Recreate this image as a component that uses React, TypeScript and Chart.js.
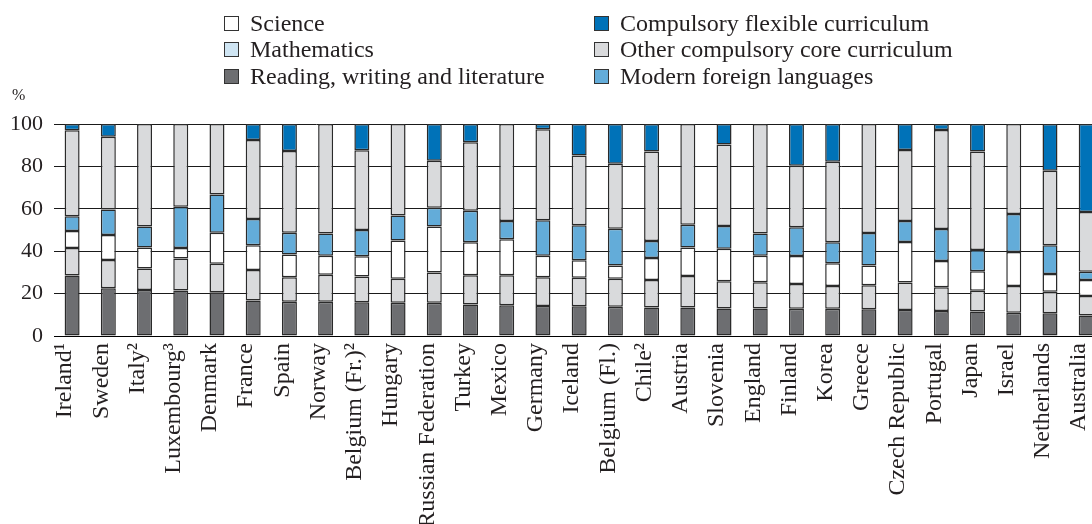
import React, { useEffect, useRef } from "react";
import { Chart, registerables } from "chart.js";

Chart.register(...registerables);

const categories = [
  "Ireland¹", "Sweden", "Italy²", "Luxembourg³", "Denmark", "France", "Spain", "Norway",
  "Belgium (Fr.)²", "Hungary", "Russian Federation", "Turkey", "Mexico", "Germany", "Iceland",
  "Belgium (Fl.)", "Chile²", "Austria", "Slovenia", "England", "Finland", "Korea", "Greece",
  "Czech Republic", "Portugal", "Japan", "Israel", "Netherlands", "Australia",
];

const reading = [28.5, 22.5, 21.7, 21.5, 20.6, 16.7, 16.2, 16.2, 15.9, 15.7, 15.7, 14.9, 14.5, 14.2, 14.0, 13.8, 13.4, 13.4, 13.0, 13.0, 12.9, 12.9, 12.6, 12.3, 11.8, 11.5, 11.0, 10.7, 9.7];
const mathematics = [13.0, 13.3, 10.1, 15.0, 13.5, 14.4, 11.5, 12.7, 12.2, 11.3, 14.2, 13.7, 14.1, 13.5, 13.5, 13.2, 13.0, 14.9, 12.8, 12.3, 11.6, 10.7, 11.3, 12.9, 11.2, 9.9, 12.6, 10.2, 9.2];
const science = [8.0, 11.8, 10.0, 5.0, 14.6, 11.7, 10.8, 9.0, 9.5, 18.1, 21.8, 15.6, 17.0, 10.2, 8.2, 6.3, 10.4, 13.5, 15.4, 12.6, 13.2, 10.7, 9.4, 19.1, 12.4, 9.1, 16.0, 8.3, 7.5];
const languages = [7.0, 12.1, 9.8, 19.5, 18.1, 12.4, 10.2, 10.5, 12.4, 11.7, 8.8, 14.9, 8.6, 16.7, 16.5, 17.3, 8.0, 10.7, 10.7, 10.5, 13.6, 9.9, 15.3, 9.9, 15.1, 10.1, 17.9, 13.6, 3.9];
const otherCore = [40.5, 34.3, 48.4, 39.0, 33.2, 37.3, 38.6, 51.6, 37.6, 43.2, 22.2, 32.3, 45.8, 42.9, 33.0, 30.7, 42.2, 47.5, 38.4, 51.6, 29.0, 38.0, 51.4, 33.5, 46.7, 46.4, 42.5, 35.2, 28.2];
const flexible = [3.0, 6.0, 0, 0, 0, 7.5, 12.7, 0, 12.4, 0, 17.3, 8.6, 0, 2.5, 14.8, 18.7, 13.0, 0, 9.7, 0, 19.7, 17.8, 0, 12.3, 2.8, 13.0, 0, 22.0, 41.5];

const yTickMin = 0;
const yTickMax = 100;
const yTickStep = 20;

const FONT = '"Liberation Serif", "Times New Roman", serif';
const TEXT = "#231f20";
const EDGE = "#2a2a2a";

const series = [
  { label: "Reading, writing and literature", data: reading, color: "#6d6e71", legendColor: "#6d6e71" },
  { label: "Mathematics", data: mathematics, color: "#d9dadc", legendColor: "#cfe5f3" },
  { label: "Science", data: science, color: "#ffffff", legendColor: "#ffffff" },
  { label: "Modern foreign languages", data: languages, color: "#63acd9", legendColor: "#63acd9" },
  { label: "Other compulsory core curriculum", data: otherCore, color: "#d9dadc", legendColor: "#d9dadc" },
  { label: "Compulsory flexible curriculum", data: flexible, color: "#0072b8", legendColor: "#0072b8" },
];

const legendColumns = [
  ["Science", "Mathematics", "Reading, writing and literature"],
  ["Compulsory flexible curriculum", "Other compulsory core curriculum", "Modern foreign languages"],
];

export default function App() {
  const ref = useRef<HTMLCanvasElement>(null);

  useEffect(() => {
    const chart = new Chart(ref.current!, {
      type: "bar",
      data: {
        labels: categories,
        datasets: series.map((s) => ({
          label: s.label,
          data: s.data,
          backgroundColor: s.color,
          borderColor: EDGE,
          borderWidth: 1.5,
          borderSkipped: false,
          categoryPercentage: 1,
          barPercentage: 0.414,
        })),
      },
      options: {
        responsive: false,
        animation: false,
        layout: { padding: { top: 124, left: 0, right: 0, bottom: 0 } },
        plugins: { legend: { display: false }, tooltip: { enabled: false } },
        scales: {
          x: {
            stacked: true,
            grid: { display: false, drawTicks: false },
            border: { display: true, color: "#000", width: 1 },
            ticks: {
              autoSkip: false,
              minRotation: 90,
              maxRotation: 90,
              padding: 7,
              labelOffset: -7,
              color: TEXT,
              font: { family: FONT, size: 24 },
            },
            afterFit: (s: any) => {
              s.height = 188;
            },
          },
          y: {
            stacked: true,
            min: yTickMin,
            max: yTickMax,
            grid: { color: "#1a1a1a", lineWidth: 1, drawTicks: false },
            border: { display: false },
            ticks: {
              stepSize: yTickStep,
              padding: 11,
              color: TEXT,
              font: { family: FONT, size: 22 },
            },
            afterFit: (s: any) => {
              s.width = 54;
            },
          },
        },
      },
    });
    return () => chart.destroy();
  }, []);

  const colorOf = (label: string) => series.find((s) => s.label === label)!.legendColor;

  return (
    <div
      style={{
        position: "fixed",
        left: 0,
        top: 0,
        width: 1092,
        height: 524,
        overflow: "hidden",
        background: "#fff",
      }}
    >
      <canvas
        ref={ref}
        width={1122}
        height={524}
        style={{ position: "absolute", left: 0, top: 0, width: 1122, height: 524 }}
      />
      {legendColumns.map((col, ci) =>
        col.map((label, ri) => (
          <div
            key={label}
            style={{
              position: "absolute",
              left: ci === 0 ? 224 : 594,
              top: 23 + ri * 26.5 - 15,
              height: 30,
              display: "flex",
              alignItems: "center",
              fontFamily: FONT,
              fontSize: 24,
              color: TEXT,
              whiteSpace: "nowrap",
            }}
          >
            <span
              style={{
                display: "inline-block",
                width: 13,
                height: 13,
                border: "1px solid #333",
                background: colorOf(label),
                marginRight: 11,
              }}
            />
            <span>{label}</span>
          </div>
        ))
      )}
      <div
        style={{
          position: "absolute",
          left: 12,
          top: 86,
          fontFamily: FONT,
          fontSize: 16,
          color: TEXT,
        }}
      >
        %
      </div>
    </div>
  );
}
